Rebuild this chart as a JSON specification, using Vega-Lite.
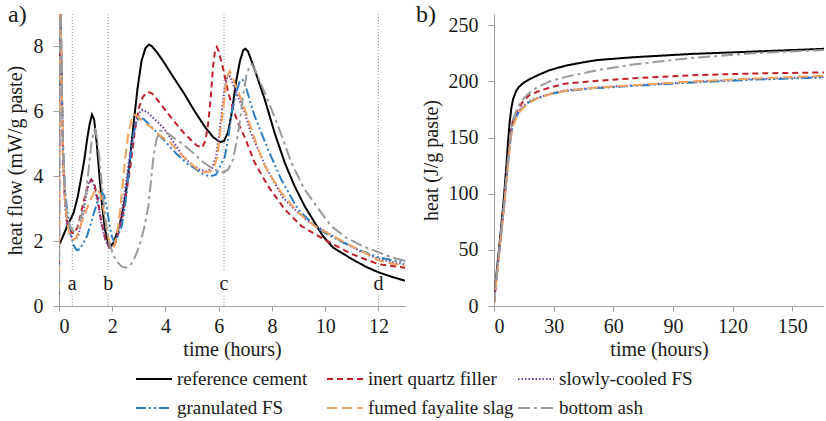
{
 "$schema": "https://vega.github.io/schema/vega-lite/v6.json",
 "padding": {"left": 5, "top": 2, "right": 0, "bottom": 0},
 "background": "white",
 "config": {
  "font": "Liberation Serif",
  "view": {"stroke": null},
  "style": {
   "guide-label": {"font": "Liberation Serif", "fontSize": 20, "fill": "#1a1a1a", "fontWeight": "normal"},
   "guide-title": {"font": "Liberation Serif", "fontSize": 20, "fill": "#1a1a1a", "fontWeight": "normal"},
   "group-title": {"font": "Liberation Serif", "fontSize": 24, "fontWeight": "normal"}
  },
  "axis": {"domainColor": "#a0a0a0", "tickColor": "#a0a0a0", "grid": false, "labelFont": "Liberation Serif", "labelFontSize": 20, "labelColor": "#1a1a1a", "titleFont": "Liberation Serif", "titleFontSize": 20, "titleFontWeight": "normal", "titleColor": "#1a1a1a"},
  "legend": {"labelFont": "Liberation Serif", "labelFontSize": 19, "labelColor": "#1a1a1a"},
  "title": {"font": "Liberation Serif", "fontSize": 24, "fontWeight": "normal", "anchor": "start", "frame": "bounds", "color": "#1a1a1a"}
 },
 "datasets": {
  "flow": [
   {"s": "reference cement", "t": [0,0.05,0.15,0.3,0.45,0.55,0.7,0.8,0.95,1.05,1.15,1.24,1.32,1.42,1.52,1.62,1.72,1.86,1.95,2.05,2.2,2.35,2.5,2.65,2.8,2.95,3.1,3.25,3.38,3.5,3.7,3.95,4.3,4.7,5.1,5.5,5.8,6.05,6.2,6.35,6.5,6.65,6.8,6.92,7.0,7.1,7.35,7.73,8.1,8.48,8.85,9.22,9.6,9.91,10.3,10.9,11.5,12,12.5,13],
    "v": [1.9,1.96,2.15,2.45,2.7,2.88,3.35,3.8,4.5,5.1,5.6,5.9,5.75,5.0,4.0,3.1,2.4,1.88,1.86,1.95,2.3,2.75,3.4,4.4,5.6,6.7,7.55,7.95,8.06,8.0,7.8,7.5,7.05,6.55,6.0,5.5,5.2,5.05,5.08,5.35,6.0,6.9,7.55,7.88,7.93,7.85,7.29,6.37,5.34,4.42,3.7,3.09,2.58,2.16,1.8,1.5,1.22,1.04,0.9,0.78]},
   {"s": "inert quartz filler", "t": [0,0.02,0.06,0.1,0.15,0.22,0.3,0.4,0.5,0.6,0.7,0.8,0.95,1.1,1.22,1.32,1.45,1.6,1.75,1.9,2.0,2.1,2.25,2.4,2.55,2.7,2.85,3.0,3.15,3.35,3.5,3.8,4.17,4.67,5.17,5.38,5.5,5.6,5.7,5.79,5.86,5.93,6.0,6.08,6.17,6.35,6.55,6.75,6.98,7.35,7.85,8.48,9.1,9.73,10.3,11,12,13],
    "v": [0,9.8,9.2,7,4.6,3.3,2.6,2.35,2.25,2.25,2.45,2.75,3.3,3.75,3.9,3.8,3.3,2.55,2.05,1.8,1.78,1.9,2.3,2.8,3.6,4.4,5.4,6.1,6.45,6.6,6.55,6.25,5.85,5.35,4.95,4.88,5.1,5.6,6.4,7.4,7.85,7.98,7.85,7.6,7.3,6.6,6.05,5.6,5.2,4.42,3.7,2.98,2.47,2.16,1.9,1.6,1.29,1.18]},
   {"s": "slowly-cooled FS", "t": [0,0.02,0.06,0.1,0.15,0.22,0.3,0.45,0.6,0.72,0.85,1.0,1.12,1.2,1.3,1.45,1.6,1.75,1.9,2.0,2.15,2.3,2.45,2.6,2.75,2.9,3.05,3.15,3.35,3.6,3.92,4.3,4.67,5.0,5.3,5.55,5.75,5.9,6.02,6.12,6.22,6.32,6.42,6.55,6.75,6.98,7.2,7.48,7.79,8.1,8.41,8.85,9.4,10,10.6,11.3,12,12.5,13],
    "v": [0,9.8,9.2,7,4.6,3.2,2.5,2.15,2.05,2.15,2.6,3.3,3.8,3.9,3.75,3.2,2.5,2.0,1.8,1.8,2.05,2.6,3.4,4.3,5.1,5.7,6.0,6.05,5.95,5.75,5.5,5.05,4.6,4.35,4.2,4.15,4.25,4.6,5.3,6.0,6.7,7.05,7.08,6.8,6.4,5.96,5.35,4.83,4.25,3.8,3.35,2.98,2.6,2.3,2.0,1.7,1.45,1.36,1.28]},
   {"s": "granulated FS", "t": [0,0.02,0.06,0.1,0.15,0.22,0.3,0.42,0.55,0.67,0.78,0.92,1.05,1.2,1.36,1.5,1.62,1.7,1.8,1.9,1.98,2.08,2.18,2.36,2.5,2.67,2.8,2.92,3.05,3.2,3.5,3.92,4.4,4.8,5.17,5.45,5.67,5.9,6.05,6.23,6.35,6.5,6.67,6.8,6.9,7.0,7.35,7.85,8.35,8.98,9.6,10.1,10.7,11.3,12,12.5,13],
    "v": [0,9.8,9.2,7.2,5,3.6,3.0,2.3,1.86,1.72,1.75,1.95,2.15,2.55,3.0,3.35,3.5,3.4,3.0,2.5,2.15,1.97,2.1,2.47,3.2,4.5,5.3,5.7,5.8,5.75,5.5,5.14,4.7,4.4,4.2,4.05,4.0,4.05,4.3,4.6,5.14,6.0,6.6,6.95,6.97,6.8,5.86,4.83,3.9,2.98,2.47,2.2,1.95,1.72,1.5,1.42,1.35]},
   {"s": "fumed fayalite slag", "t": [0,0.02,0.06,0.1,0.15,0.22,0.3,0.42,0.55,0.65,0.8,0.95,1.05,1.2,1.35,1.45,1.55,1.67,1.78,1.88,1.98,2.08,2.23,2.35,2.48,2.6,2.73,2.82,2.95,3.2,3.41,3.8,4.16,4.55,4.92,5.2,5.42,5.62,5.8,5.95,6.05,6.17,6.27,6.35,6.42,6.5,6.65,6.85,7.05,7.23,7.48,7.73,8.05,8.35,8.98,9.6,10.2,10.8,11.4,12,12.5,13],
    "v": [0,9.8,9.2,7,4.7,3.3,2.6,2.15,2.05,2.1,2.45,2.8,3.0,3.3,3.55,3.6,3.45,3.0,2.45,2.0,1.8,1.85,2.47,3.4,4.5,5.3,5.75,5.9,5.85,5.65,5.55,5.25,5.05,4.7,4.43,4.2,4.12,4.13,4.2,4.6,5.3,6.06,6.8,7.15,7.24,7.1,6.75,6.37,5.9,5.45,4.85,4.32,3.9,3.5,2.88,2.47,2.2,1.93,1.68,1.41,1.31,1.23]},
   {"s": "bottom ash", "t": [0,0.02,0.06,0.1,0.15,0.22,0.3,0.42,0.55,0.7,0.85,1.0,1.1,1.2,1.3,1.36,1.42,1.5,1.6,1.7,1.8,1.9,2.05,2.2,2.35,2.5,2.65,2.8,2.95,3.05,3.2,3.36,3.45,3.55,3.65,3.8,3.95,4.2,4.55,5.0,5.42,5.8,6.0,6.17,6.35,6.54,6.68,6.79,6.92,7.04,7.17,7.25,7.4,7.73,8.23,8.73,9.22,9.85,10.22,10.8,11.4,12,12.5,13],
    "v": [0,9.8,9.2,7.2,5,3.5,2.8,2.45,2.3,2.4,2.8,3.4,4.1,4.9,5.4,5.45,5.2,4.7,3.8,3.0,2.3,1.9,1.55,1.35,1.22,1.18,1.22,1.4,1.7,1.95,2.4,3.1,3.8,4.6,5.1,5.4,5.4,5.25,5.05,4.75,4.43,4.22,4.16,4.12,4.2,4.52,5.1,5.66,6.5,7.1,7.42,7.45,7.2,6.58,5.55,4.42,3.6,2.88,2.47,2.1,1.85,1.66,1.5,1.39]}
  ],
  "heat": [
   {"s": "reference cement", "t": [0,1.2,2.5,3.7,5,6.2,7,7.9,8.8,9.6,11,12.5,15,18,22,28,36,45,52,70,100,130,166],
    "v": [3,28,50,72,97,124,145,164,177,184,191,195,199,202,205.5,210,214,217,219,221.5,224.5,226.5,229]},
   {"s": "inert quartz filler", "t": [0,1.2,2.5,3.7,5,6.2,7,7.9,8.7,9.6,11.3,13,15,18,22,28,36,52,70,100,130,166],
    "v": [2,25,47,68,90,115,130,145,158,166,172,178,183,188,191,194.5,198,200.5,202.7,205.5,207,208]},
   {"s": "slowly-cooled FS", "t": [0,1.2,2.5,3.7,5,6.2,7,7.9,8.7,9.6,11.3,13,15,18,22,28,36,52,70,100,130,166],
    "v": [2,24,46,67,88,112,127,142,154,162,169.5,174.5,178.5,182.5,185.5,189,192,194.5,196.5,199.5,202,204]},
   {"s": "granulated FS", "t": [0,1.2,2.5,3.7,5,6.2,7,7.9,8.7,9.6,11.3,13,15,18,22,28,36,52,70,100,130,166],
    "v": [2,24,46,67,88,112,127,142,154,162,169,174,178,182,185,188.5,191.5,194,196,199,201.5,203.5]},
   {"s": "fumed fayalite slag", "t": [0,1.2,2.5,3.7,5,6.2,7,7.9,8.7,9.6,11.3,13,15,18,22,28,36,52,70,100,130,166],
    "v": [1,22,44,65,86,110,125,140,152,160,168,173,177,181.5,185,188.5,191.5,194.5,196.5,200,202.5,205]},
   {"s": "bottom ash", "t": [0,1.2,2.5,3.7,5,6.2,7,7.9,8.7,9.6,11.3,13,15,18,22,28,36,52,70,100,130,166],
    "v": [2,25,47,68,90,115,130,145,158,166,174,180,185,190,195,200,204,210,215,221,225,228]}
  ],
  "stages": [
   {"t": 0.5, "lab": "a"},
   {"t": 1.85, "lab": "b"},
   {"t": 6.2, "lab": "c"},
   {"t": 12, "lab": "d"}
  ]
 },
 "spacing": 11,
 "hconcat": [
  {
   "width": 346,
   "height": 292,
   "title": {"text": "a)", "offset": -13, "dx": 3, "font": "Liberation Serif", "fontSize": 24, "fontWeight": "normal"},
   "layer": [
    {
     "data": {"name": "stages"},
     "mark": {"type": "rule", "strokeDash": [1, 2], "color": "#8c8c8c", "strokeWidth": 1},
     "encoding": {
      "x": {"field": "t", "type": "quantitative", "title": "time (hours)"},
      "y": {"datum": 9, "type": "quantitative", "title": "heat flow (mW/g paste)"},
      "y2": {"datum": 1.1}
     }
    },
    {
     "data": {"name": "stages"},
     "mark": {"type": "rule", "strokeDash": [1, 2], "color": "#8c8c8c", "strokeWidth": 1},
     "encoding": {
      "x": {"field": "t", "type": "quantitative", "title": "time (hours)"},
      "y": {"datum": 0.32, "type": "quantitative", "title": "heat flow (mW/g paste)"},
      "y2": {"datum": 0}
     }
    },
    {
     "data": {"name": "stages"},
     "mark": {"type": "text", "fontSize": 20, "font": "Liberation Serif", "color": "#1a1a1a"},
     "encoding": {
      "x": {"field": "t", "type": "quantitative", "title": "time (hours)"},
      "y": {"datum": 0.68, "type": "quantitative", "title": "heat flow (mW/g paste)"},
      "text": {"field": "lab"}
     }
    },
    {
     "data": {"name": "flow"},
     "transform": [{"flatten": ["t", "v"]}],
     "mark": {"type": "line", "clip": true, "strokeWidth": 2},
     "encoding": {
      "x": {"field": "t", "type": "quantitative", "title": "time (hours)", "scale": {"domain": [0, 13], "nice": false},
       "axis": {"values": [0, 2, 4, 6, 8, 10, 12], "tickSize": 5, "labelPadding": 5, "titlePadding": 3, "domainColor": "#a0a0a0", "tickColor": "#a0a0a0", "labelFont": "Liberation Serif", "labelFontSize": 20, "labelColor": "#1a1a1a", "titleFont": "Liberation Serif", "titleFontSize": 20, "titleFontWeight": "normal", "titleColor": "#1a1a1a", "grid": false}},
      "y": {"field": "v", "type": "quantitative", "title": "heat flow (mW/g paste)", "scale": {"domain": [0, 9], "nice": false},
       "axis": {"values": [0, 2, 4, 6, 8], "tickSize": 6, "labelPadding": 10, "titlePadding": 8, "domainColor": "#a0a0a0", "tickColor": "#a0a0a0", "labelFont": "Liberation Serif", "labelFontSize": 20, "labelColor": "#1a1a1a", "titleFont": "Liberation Serif", "titleFontSize": 20, "titleFontWeight": "normal", "titleColor": "#1a1a1a", "grid": false}},
      "color": {"field": "s", "type": "nominal",
       "scale": {"domain": ["reference cement", "inert quartz filler", "slowly-cooled FS", "granulated FS", "fumed fayalite slag", "bottom ash"], "range": ["#000000", "#C0202A", "#7040A0", "#2E7EC4", "#F2A25C", "#9A9A9A"]},
       "legend": {"orient": "none", "legendX": 76, "legendY": 346, "direction": "horizontal", "columns": 3, "title": null, "symbolType": "stroke", "symbolSize": 1296, "symbolStrokeWidth": 2, "labelFontSize": 19, "labelFont": "Liberation Serif", "labelColor": "#1a1a1a", "gridAlign": "all", "columnPadding": 0, "rowPadding": -6, "labelOffset": 4, "labelLimit": 300}},
      "strokeDash": {"field": "s", "type": "nominal",
       "scale": {"domain": ["reference cement", "inert quartz filler", "slowly-cooled FS", "granulated FS", "fumed fayalite slag", "bottom ash"], "range": [[1, 0], [6, 4], [1.5, 2], [10, 3, 2, 3, 2, 3], [10, 5], [12, 4, 3, 4]]},
       "legend": {"orient": "none", "legendX": 76, "legendY": 346, "direction": "horizontal", "columns": 3, "title": null, "symbolType": "stroke", "symbolSize": 1296, "symbolStrokeWidth": 2, "labelFontSize": 19, "labelFont": "Liberation Serif", "labelColor": "#1a1a1a", "gridAlign": "all", "columnPadding": 0, "rowPadding": -6, "labelOffset": 4, "labelLimit": 300}}
     }
    }
   ]
  },
  {
   "width": 330,
   "height": 292,
   "title": {"text": "b)", "offset": -13, "dx": -5, "font": "Liberation Serif", "fontSize": 24, "fontWeight": "normal"},
   "data": {"name": "heat"},
   "transform": [{"flatten": ["t", "v"]}],
   "mark": {"type": "line", "clip": true, "strokeWidth": 2},
   "encoding": {
    "x": {"field": "t", "type": "quantitative", "title": "time (hours)", "scale": {"domain": [0, 166], "nice": false},
     "axis": {"values": [0, 30, 60, 90, 120, 150], "tickSize": 5, "labelPadding": 5, "titlePadding": 3, "domainColor": "#a0a0a0", "tickColor": "#a0a0a0", "labelFont": "Liberation Serif", "labelFontSize": 20, "labelColor": "#1a1a1a", "titleFont": "Liberation Serif", "titleFontSize": 20, "titleFontWeight": "normal", "titleColor": "#1a1a1a", "grid": false}},
    "y": {"field": "v", "type": "quantitative", "title": "heat (J/g paste)", "scale": {"domain": [0, 260], "nice": false},
     "axis": {"values": [0, 50, 100, 150, 200, 250], "tickSize": 6, "labelPadding": 10, "titlePadding": 7, "domainColor": "#a0a0a0", "tickColor": "#a0a0a0", "labelFont": "Liberation Serif", "labelFontSize": 20, "labelColor": "#1a1a1a", "titleFont": "Liberation Serif", "titleFontSize": 20, "titleFontWeight": "normal", "titleColor": "#1a1a1a", "grid": false}},
    "color": {"field": "s", "type": "nominal",
     "scale": {"domain": ["reference cement", "inert quartz filler", "slowly-cooled FS", "granulated FS", "fumed fayalite slag", "bottom ash"], "range": ["#000000", "#C0202A", "#7040A0", "#2E7EC4", "#F2A25C", "#9A9A9A"]},
     "legend": {"orient": "none", "legendX": 76, "legendY": 346, "direction": "horizontal", "columns": 3, "title": null, "symbolType": "stroke", "symbolSize": 1296, "symbolStrokeWidth": 2, "labelFontSize": 19, "labelFont": "Liberation Serif", "labelColor": "#1a1a1a", "gridAlign": "all", "columnPadding": 0, "rowPadding": -6, "labelOffset": 4, "labelLimit": 300}},
    "strokeDash": {"field": "s", "type": "nominal",
     "scale": {"domain": ["reference cement", "inert quartz filler", "slowly-cooled FS", "granulated FS", "fumed fayalite slag", "bottom ash"], "range": [[1, 0], [6, 4], [1.5, 2], [10, 3, 2, 3, 2, 3], [10, 5], [12, 4, 3, 4]]},
     "legend": {"orient": "none", "legendX": 76, "legendY": 346, "direction": "horizontal", "columns": 3, "title": null, "symbolType": "stroke", "symbolSize": 1296, "symbolStrokeWidth": 2, "labelFontSize": 19, "labelFont": "Liberation Serif", "labelColor": "#1a1a1a", "gridAlign": "all", "columnPadding": 0, "rowPadding": -6, "labelOffset": 4, "labelLimit": 300}}
   }
  }
 ]
}
